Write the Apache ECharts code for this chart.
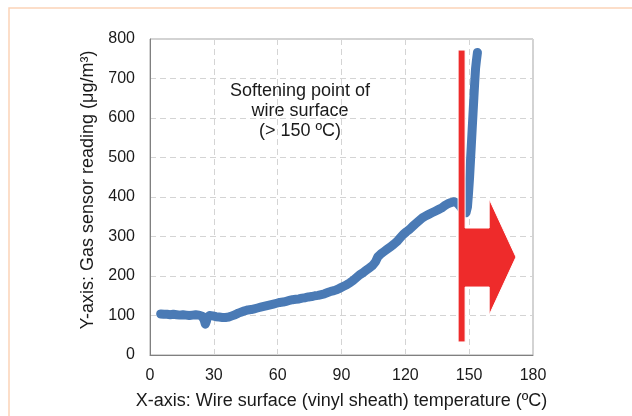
<!DOCTYPE html>
<html>
<head>
<meta charset="utf-8">
<script src="https://cdn.jsdelivr.net/npm/echarts@6/dist/echarts.min.js"></script>
<style>
  html, body { margin: 0; padding: 0; background: #fff; }
  #chart { width: 632px; height: 416px; }
</style>
</head>
<body>
<div id="chart"></div>
<script>
// values
var tempC = [5, 6.5, 8, 9.5, 11, 12.5, 14, 15.5, 17, 18.5, 20, 21.5, 23, 24.5, 25.5, 26, 26.5, 27, 28, 29.5,
    31, 32.5, 34, 35.5, 37, 38.5, 40, 41.5, 43, 44.5, 46, 47.5, 49, 50.5, 52, 53.5, 55, 56.5, 58, 59.5,
    61, 62.5, 64, 65.5, 67, 68.5, 70, 71.5, 73, 74.5, 76, 77.5, 79, 80.5, 82, 83.5, 85, 86.5, 88, 89.5,
    91, 92.5, 94, 95.5, 97, 98.5, 100, 101.5, 103, 104.5, 106, 107, 108.5, 110, 111.5, 113, 114.5, 116, 117.5, 119,
    120.5, 122, 123.5, 125, 126.5, 128, 129.5, 131, 132.5, 134, 135.5, 137, 138.5, 140, 141.5, 143, 144.5, 146, 147.5, 148.5,
    149.2, 149.7, 150.2, 150.6, 151, 151.4, 151.8, 152.2, 152.6, 153, 153.4, 153.9];
var reading = [104, 103, 103, 102, 103, 102, 101, 102, 101, 100, 101, 102, 101, 98, 88, 78, 85, 96, 100, 99,
    97, 96, 95, 95, 96, 99, 102, 106, 109, 112, 114, 115, 117, 119, 121, 123, 125, 127, 129, 131,
    133, 134, 136, 138, 140, 141, 142, 144, 145, 147, 148, 150, 151, 153, 155, 158, 161, 163, 166, 170,
    174, 178, 183, 189, 196, 203, 208, 214, 220, 226, 236, 248, 256, 262, 268, 274, 280, 287, 296, 305,
    312, 318, 326, 333, 340, 347, 352, 356, 360, 364, 368, 372, 378, 383, 386, 388, 384, 375, 362, 360,
    375, 410, 450, 490, 530, 570, 610, 650, 690, 725, 745, 766];

var xTicks = [0, 30, 60, 90, 120, 150, 180];
var yTicks = [0, 100, 200, 300, 400, 500, 600, 700, 800];

var noteLines = ['Softening point of', 'wire surface', '(> 150 ºC)'];

// red marker + arrow outline, in axis units
var arrowShape = [[144.8, 772], [148.1, 772], [148.1, 321.5], [159.4, 321.5], [159.4, 395], [172, 248],
    [159.4, 101], [159.4, 172], [148.1, 172], [148.1, 33], [144.8, 33]];

var points = tempC.map(function (t, i) { return [t, reading[i]]; });

var chart = echarts.init(document.getElementById('chart'));
var font = 'Liberation Sans, Arial, sans-serif';

var option = {
    animation: false,
    grid: {
        left: 150, right: 99, top: 39, bottom: 61,
        show: true, borderColor: '#a6a6a6', borderWidth: 1
    },
    xAxis: {
        type: 'value',
        min: xTicks[0], max: xTicks[xTicks.length - 1], interval: 30,
        name: 'X-axis: Wire surface (vinyl sheath) temperature (ºC)',
        nameLocation: 'middle', nameGap: 37,
        nameTextStyle: { fontFamily: font, fontSize: 18, color: '#1a1a1a' },
        axisLine: { lineStyle: { color: '#808080' } },
        axisTick: { show: false },
        axisLabel: { fontFamily: font, fontSize: 16, color: '#1a1a1a', margin: 13 },
        splitLine: { lineStyle: { color: '#d4d4d4', type: [6, 4] } }
    },
    yAxis: {
        type: 'value',
        min: yTicks[0], max: yTicks[yTicks.length - 1], interval: 100,
        name: 'Y-axis: Gas sensor reading (μg/m³)',
        nameLocation: 'middle', nameGap: 52,
        nameTextStyle: { fontFamily: font, fontSize: 18, color: '#1a1a1a', padding: [0, 0, 0, 14] },
        axisLine: { show: true, lineStyle: { color: '#808080' } },
        axisTick: { show: false },
        axisLabel: { fontFamily: font, fontSize: 16, color: '#1a1a1a', margin: 15 },
        splitLine: { lineStyle: { color: '#d4d4d4', type: [6, 4] } }
    },
    graphic: [
        {
            type: 'rect', silent: true,
            shape: { x: 9, y: 8, width: 700, height: 500 },
            style: { fill: 'none', stroke: '#fbd3b8', lineWidth: 1.5 }
        },
        {
            type: 'text', left: 230, top: 81,
            style: {
                text: noteLines.join('\n'), x: 0, y: 0,
                font: '18px ' + font, fill: '#1a1a1a',
                textAlign: 'center', lineHeight: 20
            }
        }
    ],
    series: [
        {
            type: 'line',
            data: points,
            symbol: 'none',
            lineStyle: { color: '#4a7ab5', width: 9, cap: 'round', join: 'round' },
            z: 2
        },
        {
            type: 'custom',
            data: [[0, 0]],
            z: 3,
            renderItem: function (params, api) {
                var pts = arrowShape.map(function (p) { return api.coord(p); });
                return {
                    type: 'polygon',
                    shape: { points: pts },
                    style: { fill: '#ee2b2b', stroke: '#ffffff', lineWidth: 1 }
                };
            }
        }
    ]
};

chart.setOption(option);
</script>
</body>
</html>
